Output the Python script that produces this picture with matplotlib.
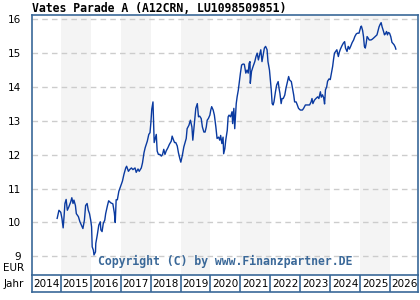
import matplotlib
matplotlib.use("Agg")
import matplotlib.pyplot as plt

title = "Vates Parade A (A12CRN, LU1098509851)"
copyright_text = "Copyright (C) by www.Finanzpartner.DE"
years = list(range(2014, 2027))
y_ticks = [9, 10, 11, 12, 13, 14, 15, 16]

dates = [
    2014.88, 2014.94, 2015.00, 2015.04, 2015.08, 2015.11, 2015.14, 2015.18, 2015.22, 2015.27,
    2015.33, 2015.37, 2015.41, 2015.44, 2015.49, 2015.52, 2015.59, 2015.64, 2015.70, 2015.74,
    2015.79, 2015.83, 2015.88, 2015.92, 2015.96, 2016.00, 2016.03, 2016.05, 2016.09, 2016.11,
    2016.16, 2016.17, 2016.22, 2016.27, 2016.32, 2016.34, 2016.38, 2016.42, 2016.47, 2016.50,
    2016.56, 2016.60, 2016.67,
    2016.74, 2016.79, 2016.82, 2016.85, 2016.89, 2016.94, 2017.00, 2017.06, 2017.11, 2017.17,
    2017.20, 2017.26, 2017.30, 2017.36, 2017.41, 2017.48, 2017.52, 2017.58, 2017.62, 2017.69,
    2017.73, 2017.78, 2017.82, 2017.89, 2017.94, 2017.98, 2018.01, 2018.04, 2018.08, 2018.10,
    2018.12, 2018.16, 2018.19, 2018.22, 2018.26, 2018.31, 2018.36, 2018.40, 2018.44, 2018.48,
    2018.52, 2018.58, 2018.63, 2018.69, 2018.72, 2018.76, 2018.80, 2018.84, 2018.89, 2018.93,
    2018.97,
    2019.01, 2019.06, 2019.11, 2019.16, 2019.19, 2019.22, 2019.28, 2019.33, 2019.38, 2019.41,
    2019.44, 2019.48, 2019.51, 2019.56, 2019.60, 2019.64, 2019.69, 2019.73, 2019.78, 2019.82,
    2019.86, 2019.89, 2019.93, 2019.98, 2020.01, 2020.04, 2020.09, 2020.13, 2020.18, 2020.22,
    2020.27, 2020.31, 2020.34, 2020.38, 2020.42, 2020.44, 2020.48, 2020.51, 2020.56, 2020.59,
    2020.62, 2020.67, 2020.72, 2020.74, 2020.78, 2020.81, 2020.86, 2020.89, 2020.93, 2020.97,
    2021.00, 2021.04, 2021.09, 2021.13, 2021.18, 2021.22, 2021.26, 2021.29, 2021.32,
    2021.33, 2021.37, 2021.42, 2021.48, 2021.52, 2021.56, 2021.60, 2021.64, 2021.68, 2021.72,
    2021.76, 2021.80, 2021.84, 2021.89, 2021.92, 2021.97, 2022.00, 2022.03, 2022.06, 2022.09,
    2022.12, 2022.17, 2022.21, 2022.26, 2022.29, 2022.32, 2022.36, 2022.39, 2022.43, 2022.48,
    2022.52, 2022.57, 2022.61, 2022.64, 2022.70, 2022.74, 2022.78, 2022.81, 2022.86, 2022.90,
    2022.94, 2023.00, 2023.07, 2023.11, 2023.17, 2023.24, 2023.31, 2023.36, 2023.39, 2023.42,
    2023.47, 2023.52, 2023.58, 2023.62, 2023.67,
    2023.70, 2023.74, 2023.78, 2023.81, 2023.84, 2023.88, 2023.91, 2023.96, 2024.00, 2024.04,
    2024.08, 2024.11, 2024.14, 2024.18, 2024.22, 2024.27, 2024.30, 2024.34, 2024.39, 2024.44,
    2024.48, 2024.51, 2024.56, 2024.60, 2024.64, 2024.69, 2024.73, 2024.78, 2024.82, 2024.87,
    2024.91, 2024.96, 2024.99, 2025.02, 2025.04, 2025.08, 2025.11, 2025.14, 2025.17, 2025.20,
    2025.23, 2025.27, 2025.30, 2025.36, 2025.40, 2025.44, 2025.50, 2025.56, 2025.59, 2025.63,
    2025.67, 2025.70, 2025.73, 2025.78, 2025.81, 2025.84, 2025.88, 2025.91, 2025.94, 2025.98,
    2026.02, 2026.06, 2026.09, 2026.13, 2026.17, 2026.19,
]

values = [
    10.12, 10.36, 10.30, 10.12, 9.84, 10.17, 10.56, 10.68, 10.36, 10.46,
    10.60, 10.73, 10.56, 10.66, 10.50, 10.26, 10.17, 10.02, 9.90, 9.82,
    10.07, 10.50, 10.56, 10.36, 10.26, 10.07, 9.87, 9.28, 9.18, 9.04,
    9.13, 9.38, 9.63, 9.92, 10.02, 9.78, 9.73, 9.97, 10.07, 10.26,
    10.50, 10.64, 10.58,
    10.55, 10.28, 10.00, 10.67, 10.67, 10.92, 11.07, 11.22, 11.42, 11.61,
    11.66, 11.51, 11.56, 11.61, 11.56, 11.61, 11.48, 11.58, 11.51, 11.61,
    11.76, 12.06, 12.21, 12.40, 12.60, 12.65, 12.95, 13.35, 13.56, 12.95,
    12.36, 12.50, 12.60, 12.11, 12.01, 12.01, 11.96, 12.01, 12.16, 12.01,
    12.11, 12.21, 12.31, 12.40, 12.55, 12.45, 12.36, 12.36, 12.26, 12.06,
    11.91,
    11.78, 11.98, 12.23, 12.38, 12.48, 12.77, 12.87, 13.02, 12.82, 12.43,
    12.72, 13.12, 13.37, 13.51, 13.12, 13.14, 13.07, 12.82, 12.67, 12.67,
    12.82, 13.02, 13.07, 13.17, 13.32, 13.42, 13.32, 13.17, 12.82, 12.48,
    12.52, 12.43, 12.57, 12.33, 12.52, 12.03, 12.18, 12.43, 12.72, 13.12,
    13.17, 13.12, 13.27, 12.92, 13.37, 12.77, 13.51, 13.71, 13.91, 14.21,
    14.41, 14.65, 14.68, 14.67, 14.41, 14.50, 14.41, 14.70, 14.75,
    14.11, 14.46, 14.60, 14.75, 14.90, 15.00, 14.80, 14.95, 15.10, 14.75,
    14.95, 15.15, 15.20, 15.10, 14.75, 14.50, 14.21, 13.91, 13.51, 13.47,
    13.56, 13.86, 14.06, 14.16, 13.96, 13.81, 13.51, 13.66, 13.66, 13.76,
    13.96, 14.16, 14.31, 14.21, 14.16, 13.96, 13.76, 13.56, 13.56, 13.47,
    13.37, 13.32, 13.32, 13.37, 13.47, 13.47, 13.47, 13.56, 13.66, 13.51,
    13.61, 13.66, 13.71, 13.66, 13.86,
    13.70, 13.77, 13.68, 13.50, 13.92, 14.00, 14.17, 14.24, 14.22, 14.41,
    14.61, 14.82, 15.00, 15.05, 15.10, 14.90, 15.02, 15.12, 15.22, 15.30,
    15.34, 15.15, 15.05, 15.20, 15.12, 15.22, 15.31, 15.39, 15.49, 15.57,
    15.59, 15.59, 15.69, 15.78, 15.80, 15.67, 15.49, 15.20, 15.15, 15.29,
    15.49, 15.44, 15.39, 15.39, 15.41, 15.44, 15.49, 15.54, 15.64, 15.78,
    15.86, 15.90, 15.78, 15.64, 15.54, 15.57, 15.64, 15.54, 15.61, 15.59,
    15.49, 15.32, 15.29, 15.25, 15.18, 15.12,
]

FRAME = "#3a6898"
LINE = "#0a3aa0"
BAND = "#f4f4f4"
GRID = "#cccccc"

W, H = 420, 300
fig = plt.figure(figsize=(W / 100, H / 100), dpi=100)
fig.patch.set_facecolor("white")

xmin, xmax = 2014.04, 2026.93
ymin, ymax = 8.448, 16.127

left, right, top, bottom = 32, 418, 15, 275
ax = fig.add_axes([left / W, 1 - bottom / H, (right - left) / W, (bottom - top) / H])
ax.set_xlim(xmin, xmax)
ax.set_ylim(ymin, ymax)

for y in years:
    if y % 2 == 1:
        ax.axvspan(y, y + 1, color=BAND, lw=0, zorder=0)
for t in y_ticks:
    ax.axhline(t, color=GRID, lw=1.0, ls=(0, (4, 3)), zorder=1)

ax.plot(dates, values, color=LINE, lw=1.0, zorder=3)

ax.set_xticks([])
ax.set_yticks(y_ticks)
ax.set_yticklabels([str(t) for t in y_ticks], fontsize=7.5, family="DejaVu Sans")
ax.tick_params(axis="y", length=0, pad=8)
for s in ax.spines.values():
    s.set_color(FRAME)
    s.set_linewidth(1.2)
ax.spines["bottom"].set_visible(False)

ax.text(0.5, 0.025, copyright_text, transform=ax.transAxes, ha="center", va="bottom",
        fontsize=8.3, family="DejaVu Sans Mono", weight="bold", color="#3a6898", zorder=4)

fig.text(32 / W, 1 - 8 / H, title, ha="left", va="center", fontsize=8.3,
         family="DejaVu Sans Mono", weight="bold", color="black")
fig.text(24 / W, 1 - 268 / H, "EUR", ha="right", va="center", fontsize=7.5, family="DejaVu Sans")
fig.text(24 / W, 1 - 284 / H, "Jahr", ha="right", va="center", fontsize=7.5, family="DejaVu Sans")

# year row
ybot = 292
ax2 = fig.add_axes([left / W, 1 - ybot / H, (right - left) / W, (ybot - bottom) / H])
ax2.set_xlim(xmin, xmax)
ax2.set_ylim(0, 1)
ax2.set_xticks([])
ax2.set_yticks([])
for s in ax2.spines.values():
    s.set_color(FRAME)
    s.set_linewidth(1.2)
for y in years[1:]:
    ax2.axvline(y, color=FRAME, lw=1.2)
for y in years:
    cx = (max(y, xmin) + min(y + 1, xmax)) / 2
    ax2.text(cx, 0.45, str(y), ha="center", va="center", fontsize=7.5, family="DejaVu Sans")

fig.savefig("out.png", dpi=100)
